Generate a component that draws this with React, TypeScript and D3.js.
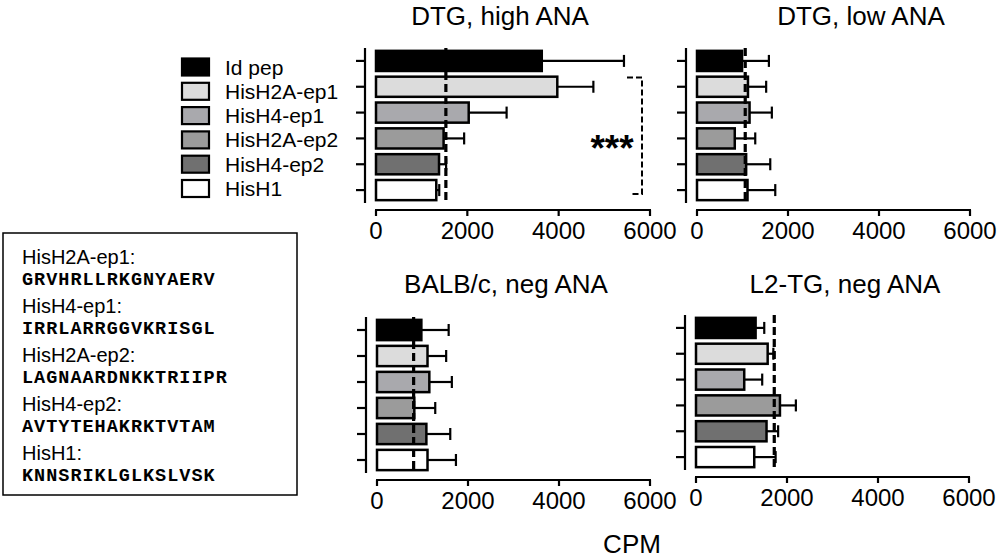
import React from 'react';
import * as d3 from 'd3';

// peptide categories (top to bottom) and their fill colours
const categories = ['Id pep', 'HisH2A-ep1', 'HisH4-ep1', 'HisH2A-ep2', 'HisH4-ep2', 'HisH1'];
const fills = ['#000000', '#dcdcdc', '#a9a9ad', '#9b9b9b', '#707070', '#ffffff'];

// CPM means, SD (upper error only) and dashed reference line per group
const highAnaMean = [3630, 3970, 2030, 1480, 1380, 1320];
const highAnaSd = [1800, 790, 830, 450, 155, 65];
const highAnaRef = 1530;

const lowAnaMean = [990, 1120, 1155, 830, 1080, 1110];
const lowAnaSd = [590, 400, 490, 450, 530, 610];
const lowAnaRef = 1060;

const balbMean = [975, 1110, 1150, 820, 1085, 1110];
const balbSd = [600, 410, 495, 460, 525, 625];
const balbRef = 805;

const l2tgMean = [1310, 1575, 1060, 1845, 1550, 1280];
const l2tgSd = [190, 125, 395, 350, 255, 470];
const l2tgRef = 1720;

const xTicks = [0, 2000, 4000, 6000];

const peptides = [
  ['HisH2A-ep1:', 'GRVHRLLRKGNYAERV'],
  ['HisH4-ep1:', 'IRRLARRGGVKRISGL'],
  ['HisH2A-ep2:', 'LAGNAARDNKKTRIIPR'],
  ['HisH4-ep2:', 'AVTYTEHAKRKTVTAM'],
  ['HisH1:', 'KNNSRIKLGLKSLVSK'],
];

const SANS = '"Liberation Sans", Arial, Helvetica, sans-serif';
const MONO = '"Liberation Mono", "Courier New", monospace';

interface PanelProps {
  title: string;
  mean: number[];
  sd: number[];
  refLine: number;
  x0: number;
  x1: number;
  yTop: number;
  yBottom: number;
  axisY: number;
  yAxisX: number;
  titleX: number;
  titleY: number;
  children?: React.ReactNode;
}

const Panel: React.FC<PanelProps> = ({
  title, mean, sd, refLine, x0, x1, yTop, yBottom, axisY, yAxisX, titleX, titleY, children,
}) => {
  const x = d3.scaleLinear().domain([0, 6000]).range([x0, x1]);
  const y = d3.scaleBand<string>().domain(categories).range([yTop, yBottom]).paddingInner(0.22).paddingOuter(0.11);
  const bw = y.bandwidth();

  return (
    <g>
      <text x={titleX} y={titleY} textAnchor="middle" fontSize={26} fontFamily={SANS}>{title}</text>

      {/* bars */}
      {categories.map((c, i) => (
        <rect key={c} x={x(0)} y={y(c)!} width={x(mean[i]) - x(0)} height={bw}
          fill={fills[i]} stroke="#000" strokeWidth={2.5} />
      ))}

      {/* error bars */}
      {categories.map((c, i) => {
        const cy = y(c)! + bw / 2;
        const xe = x(mean[i] + sd[i]);
        return (
          <g key={c + '-err'} stroke="#000" strokeWidth={2.2}>
            <line x1={x(mean[i])} x2={xe} y1={cy} y2={cy} />
            <line x1={xe} x2={xe} y1={cy - 6} y2={cy + 6} />
          </g>
        );
      })}

      {/* dashed reference */}
      <line x1={x(refLine)} x2={x(refLine)} y1={yTop} y2={yBottom} stroke="#000" strokeWidth={3.2}
        strokeDasharray="8,4" />

      {/* y axis */}
      <line x1={yAxisX} x2={yAxisX} y1={yTop} y2={yBottom} stroke="#000" strokeWidth={2.2} />
      {categories.map(c => {
        const cy = y(c)! + bw / 2;
        return <line key={c + '-t'} x1={yAxisX - 9} x2={yAxisX} y1={cy} y2={cy} stroke="#000" strokeWidth={2.2} />;
      })}

      {/* x axis */}
      <line x1={x(0) - 1} x2={x(6000) + 1} y1={axisY} y2={axisY} stroke="#000" strokeWidth={2.2} />
      {xTicks.map(t => (
        <g key={t}>
          <line x1={x(t)} x2={x(t)} y1={axisY} y2={axisY + 6} stroke="#000" strokeWidth={2.2} />
          <text x={x(t)} y={axisY + 29} textAnchor="middle" fontSize={24} fontFamily={SANS}>{t}</text>
        </g>
      ))}
      {children}
    </g>
  );
};

export default function App() {
  // legend positions
  const legendY = d3.scaleLinear().domain([0, categories.length - 1]).range([67, 188.5]);

  return (
    <svg width={1000} height={559} style={{ position: 'absolute', left: 0, top: 0, background: '#fff' }}>
      <rect width={1000} height={559} fill="#fff" />

      <Panel title="DTG, high ANA" mean={highAnaMean} sd={highAnaSd} refLine={highAnaRef}
        x0={376} x1={650} yTop={48} yBottom={203} axisY={210} yAxisX={365} titleX={500} titleY={25}>
        <path d="M627,77.5 H642 V194 H632" fill="none" stroke="#000" strokeWidth={2} strokeDasharray="6,3" />
        <text x={612} y={161} textAnchor="middle" fontSize={37} fontWeight="bold" fontFamily={SANS}>***</text>
      </Panel>
      <Panel title="DTG, low ANA" mean={lowAnaMean} sd={lowAnaSd} refLine={lowAnaRef}
        x0={697} x1={970} yTop={48} yBottom={203} axisY={210} yAxisX={686} titleX={861} titleY={25} />
      <Panel title="BALB/c, neg ANA" mean={balbMean} sd={balbSd} refLine={balbRef}
        x0={377} x1={650} yTop={317} yBottom={473} axisY={480} yAxisX={366} titleX={506} titleY={293} />
      <Panel title="L2-TG, neg ANA" mean={l2tgMean} sd={l2tgSd} refLine={l2tgRef}
        x0={696} x1={969} yTop={315} yBottom={470} axisY={477} yAxisX={685} titleX={845} titleY={293} />

      {/* legend */}
      {categories.map((c, i) => (
        <g key={c + '-leg'}>
          <rect x={182} y={legendY(i) - 8.5} width={27} height={17} fill={fills[i]} stroke="#000" strokeWidth={2.2} />
          <text x={225} y={legendY(i) + 7.5} fontSize={21} fontFamily={SANS}>{c}</text>
        </g>
      ))}

      {/* peptide sequence box */}
      <rect x={3} y={233} width={294} height={262} fill="none" stroke="#000" strokeWidth={1.5} />
      {peptides.map(([name, seq], i) => (
        <g key={name}>
          <text x={22} y={263.5 + i * 49} fontSize={20} fontFamily={SANS}>{name}</text>
          <text x={22} y={285 + i * 49} fontSize={18.5} fontWeight="bold" fontFamily={MONO} letterSpacing={1}>{seq}</text>
        </g>
      ))}

      <text x={632} y={553} textAnchor="middle" fontSize={26} fontFamily={SANS}>CPM</text>
    </svg>
  );
}
